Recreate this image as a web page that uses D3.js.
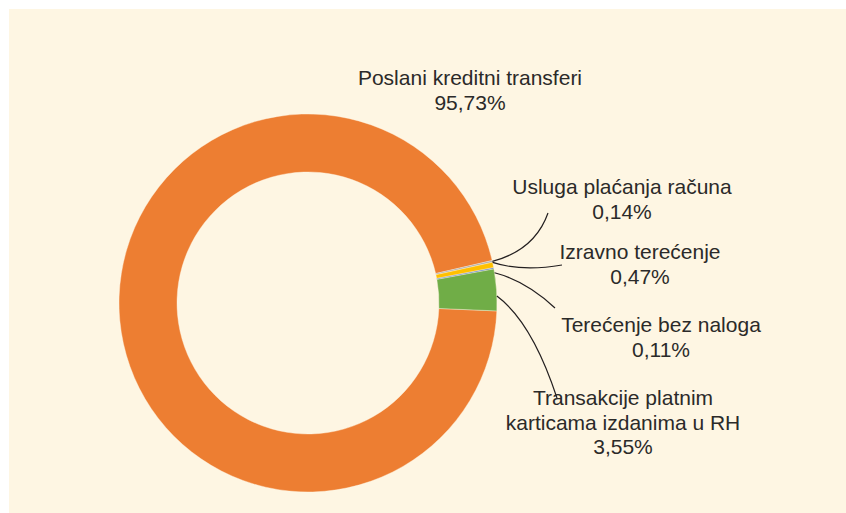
<!DOCTYPE html>
<html>
<head>
<meta charset="utf-8">
<script src="https://cdn.jsdelivr.net/npm/d3@7"></script>
<style>
  body { margin: 0; background: #ffffff; }
  svg { display: block; }
  text { font-family: "Liberation Sans", Arial, Helvetica, sans-serif; fill: #2b2a29; }
</style>
</head>
<body>
<div id="chart"></div>
<script>
// data for the donut, in drawing order (clockwise)
var categories = ["Poslani kreditni transferi", "Usluga plaćanja računa", "Izravno terećenje", "Terećenje bez naloga", "Transakcije platnim karticama izdanima u RH"];
var shares = [95.73, 0.14, 0.47, 0.11, 3.55];
var shareLabels = ["95,73%", "0,14%", "0,47%", "0,11%", "3,55%"];
var colours = ["#ed7e32", "#a5a5a5", "#ffc000", "#4472c4", "#70ad47"];

// label text broken into lines
var labelLines = [
	["Poslani kreditni transferi"],
	["Usluga plaćanja računa"],
	["Izravno terećenje"],
	["Terećenje bez naloga"],
	["Transakcije platnim", "karticama izdanima u RH"]
];

// where each label and leader line sits: [text centre x, first baseline y, leader start angle, control x, control y, end x, end y]
var labelLayout = [
	[470, 85, null],
	[622, 194, 77.3, 535, 250, 548, 213],
	[640, 259, 77.6, 522, 272, 562, 265],
	[661, 332, 80.8, 526, 281, 555, 308],
	[623, 405, 87.9, 532, 322, 557, 398]
];

var width = 846;
var height = 513;
var cx = 308;
var cy = 303;
var outerR = 189;
var innerR = 131;
var lineGap = 24.5;

var svg = d3.select("#chart").append("svg")
	.attr("width", width)
	.attr("height", height);

// cream panel
svg.append("rect")
	.attr("x", 9)
	.attr("y", 9)
	.attr("width", width - 9)
	.attr("height", height - 9)
	.style("fill", "#fef6e3");

var startDeg = 92.4;
var pie = d3.pie()
	.sort(null)
	.value(function(d) { return d; })
	.startAngle(startDeg * Math.PI / 180)
	.endAngle((startDeg + 360) * Math.PI / 180);

var arc = d3.arc()
	.innerRadius(innerR)
	.outerRadius(outerR);

var g = svg.append("g")
	.attr("transform", "translate(" + cx + "," + cy + ")");

g.selectAll("path")
	.data(pie(shares))
	.enter()
	.append("path")
	.attr("d", arc)
	.style("fill", function(d, i) { return colours[i]; })
	.style("stroke", "#fef6e3")
	.style("stroke-width", 0.4);

// leader lines
labelLayout.forEach(function(l, i)
{
	if(l[2] == null) { return; }
	var a = l[2] * Math.PI / 180;
	var sx = cx + outerR * Math.sin(a);
	var sy = cy - outerR * Math.cos(a);
	var p = d3.path();
	p.moveTo(sx, sy);
	p.quadraticCurveTo(l[3], l[4], l[5], l[6]);
	svg.append("path")
		.attr("d", p.toString())
		.style("fill", "none")
		.style("stroke", "#231f20")
		.style("stroke-width", 1.2);
});

// labels
labelLines.forEach(function(lines, i)
{
	var l = labelLayout[i];
	var all = lines.concat([shareLabels[i]]);
	var t = svg.append("text")
		.attr("text-anchor", "middle")
		.style("font-size", "21px");
	all.forEach(function(s, j)
	{
		t.append("tspan")
			.attr("x", l[0])
			.attr("y", l[1] + j * lineGap)
			.text(s);
	});
});
</script>
</body>
</html>
